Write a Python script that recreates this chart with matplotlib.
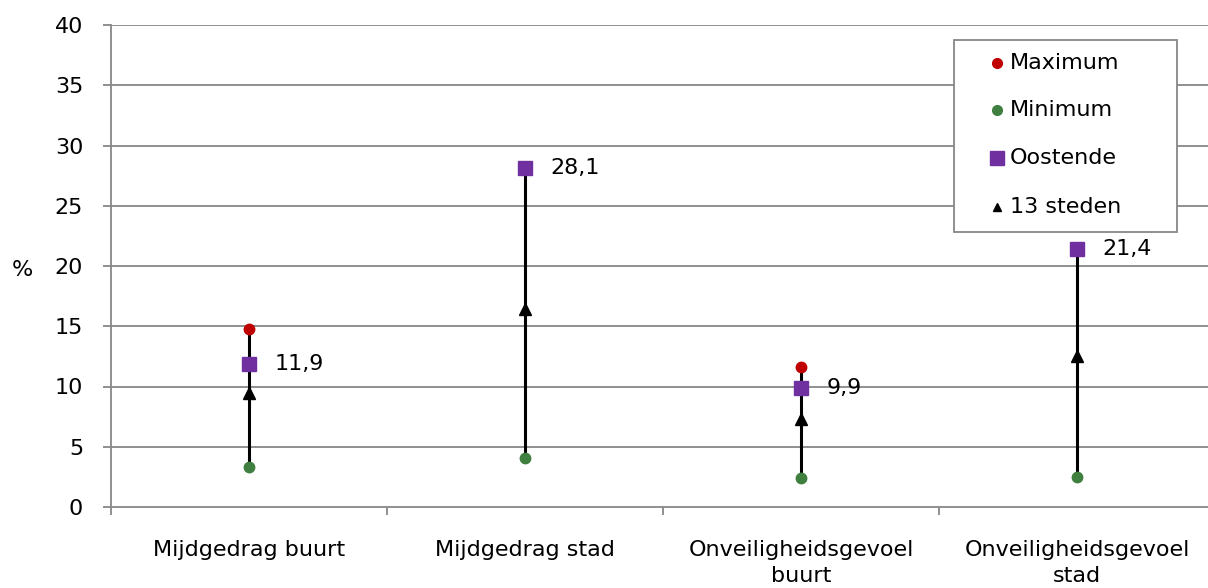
import matplotlib
matplotlib.use("Agg")
import matplotlib.pyplot as plt
from matplotlib.lines import Line2D
from matplotlib.patches import Rectangle

categories = ["Mijdgedrag buurt", "Mijdgedrag stad", "Onveiligheidsgevoel\nbuurt", "Onveiligheidsgevoel\nstad"]
maximum = [14.8, 28.1, 11.6, 21.4]
minimum = [3.3, 4.1, 2.4, 2.5]
oostende = [11.9, 28.1, 9.9, 21.4]
steden13 = [9.5, 16.4, 7.3, 12.5]
labels = ["11,9", "28,1", "9,9", "21,4"]
series_names = ["Maximum", "Minimum", "Oostende", "13 steden"]

FS = 16
plt.rcParams['font.family'] = ['DejaVu Sans']
fig = plt.figure(figsize=(12.08, 5.88), dpi=100)
W, H = 1208, 588
left, right, top, bottom = 111, 1215, 25, 507
ax = fig.add_axes([left / W, 1 - bottom / H, (right - left) / W, (bottom - top) / H])

x = list(range(len(categories)))
grid_c = "#878787"
ax.set_ylim(0, 40)
ax.set_xlim(-0.5, len(categories) - 0.5)
ax.set_yticks(range(0, 41, 5))
for yv in range(5, 41, 5):
    ax.axhline(yv, color=grid_c, lw=1.3, zorder=0)

for i in x:
    ax.plot([i, i], [minimum[i], maximum[i]], color="black", lw=2.2, zorder=2)

red, green, purple = "#C00000", "#3F7F3F", "#7030A0"
ax.plot(x, maximum, 'o', color=red, ms=7.5, ls='none', zorder=3)
ax.plot(x, minimum, 'o', color=green, ms=7.5, ls='none', zorder=3)
ax.plot(x, steden13, '^', color="black", ms=8, ls='none', zorder=4)
ax.plot(x, oostende, 's', color=purple, ms=10, ls='none', zorder=5)
for i in x:
    ax.annotate(labels[i], (i, oostende[i]), xytext=(18.5, 0), textcoords='offset points',
                ha='left', va='center', fontsize=FS)

for s in ['top', 'right']:
    ax.spines[s].set_visible(False)
for s in ['left', 'bottom']:
    ax.spines[s].set_color(grid_c)
    ax.spines[s].set_linewidth(1.3)

ax.set_xticks(x)
ax.set_xticklabels(categories, fontsize=FS, linespacing=1.38)
ax.tick_params(axis='x', length=0, pad=24)
ax.set_xticks([i + 0.5 for i in range(-1, len(categories))], minor=True)
ax.tick_params(axis='x', which='minor', length=6, color=grid_c, width=1.3)
ax.tick_params(axis='y', length=6, color=grid_c, width=1.3, labelsize=FS, pad=14)
fig.text(22 / W, 1 - 270 / H, "%", fontsize=FS, ha='center', va='center')

# legend box drawn in figure pixel coordinates
def fx(px):
    return px / W
def fy(py):
    return 1 - py / H
fig.add_artist(Rectangle((fx(954), fy(232)), fx(1177) - fx(954), fy(40) - fy(232),
                         transform=fig.transFigure, facecolor='white', edgecolor=grid_c,
                         lw=1.3, zorder=10))
styles = [('o', red, 7), ('o', green, 7), ('s', purple, 9.5), ('^', 'black', 6)]
rows = [63, 110, 158, 207]
for (m, c, ms), name, py in zip(styles, series_names, rows):
    fig.add_artist(Line2D([fx(997)], [fy(py)], marker=m, color=c, ms=ms, ls='none',
                          transform=fig.transFigure, zorder=11))
    fig.text(fx(1010), fy(py), name, fontsize=FS, ha='left', va='center', zorder=11)

fig.savefig("out.png", dpi=100)
